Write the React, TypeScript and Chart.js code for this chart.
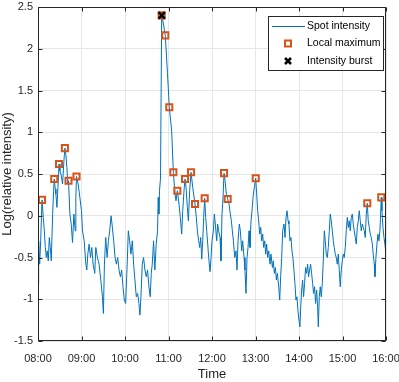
import React, { useEffect, useRef } from "react";
import { Chart, registerables } from "chart.js";

Chart.register(...registerables);

const FONT = "'Liberation Sans', Arial, sans-serif";

// Time axis: minutes after 08:00
const xTickMinutes = [0, 60, 120, 180, 240, 300, 360, 420, 480];
const xTickLabels = ["08:00", "09:00", "10:00", "11:00", "12:00", "13:00", "14:00", "15:00", "16:00"];
const yTickValues = [-1.5, -1, -0.5, 0, 0.5, 1, 1.5, 2, 2.5];
const legendLabels = ["Spot intensity", "Local maximum", "Intensity burst"];

// Spot intensity trace (minutes after 08:00, log relative intensity)
const spotTime = [
  0, 0.9, 2.3, 3.7, 5.5, 7.3, 8.7, 10.1, 11.5, 12.8,
  14.2, 15.6, 16.9, 18.3, 20.2, 21.5, 22.4, 23.8, 24.7, 26.1,
  27.5, 29.0, 30.2, 31.6, 33.9, 35.7, 37.1, 38.5, 39.8, 41.2,
  42.1, 44.0, 45.8, 47.6, 49.5, 51.3, 52.2, 53.1, 55.4, 57.7,
  60.0, 61.4, 63.7, 66.0, 67.3, 68.7, 70.5, 72.4, 74.2, 76.0,
  78.3, 79.7, 82.0, 84.3, 86.6, 88.9, 90.2, 91.6, 93.4, 95.3,
  97.1, 98.9, 100.8, 102.6, 104.4, 106.3, 108.1, 109.9, 111.8, 113.6,
  115.4, 117.2, 119.1, 120.9, 122.7, 124.6, 126.4, 128.2, 130.1, 131.9,
  133.7, 135.6, 137.4, 139.2, 140.6, 142.0, 143.8, 145.6, 147.5, 149.3,
  151.1, 153.0, 154.8, 156.2, 157.6, 159.4, 161.2, 163.0, 164.9, 165.8,
  166.7, 167.6, 169.0, 170.6, 172.5, 175.6, 178.5, 181.1, 184.4, 186.7,
  189.0, 190.4, 192.2, 194.5, 196.3, 198.2, 199.6, 201.4, 202.8, 204.2,
  206.0, 207.4, 209.2, 211.1, 213.4, 214.7, 216.6, 218.4, 219.8, 221.6,
  223.0, 224.4, 225.8, 227.2, 228.5, 229.9, 231.3, 232.7, 234.1, 235.4,
  237.3, 238.7, 240.0, 241.9, 243.2, 244.6, 246.5, 247.8, 249.2, 251.1,
  252.4, 253.8, 255.2, 256.6, 258.0, 259.8, 261.6, 263.5, 265.3, 266.7,
  268.1, 269.5, 271.3, 273.1, 274.5, 275.9, 277.7, 279.1, 281.0, 282.3,
  284.2, 285.5, 286.9, 288.3, 289.7, 291.1, 292.4, 293.8, 295.2, 296.6,
  298.4, 300.3, 301.6, 303.0, 304.4, 305.8, 307.2, 308.5, 309.9, 311.3,
  312.7, 314.1, 315.4, 316.8, 318.2, 320.0, 321.4, 323.3, 324.6, 326.0,
  327.4, 328.8, 330.2, 332.0, 333.4, 334.7, 336.1, 337.5, 339.3, 340.7,
  342.1, 343.5, 344.9, 346.1, 347.5, 348.9, 350.3, 351.6, 353.0, 354.4,
  355.8, 357.2, 358.5, 359.9, 361.3, 362.2, 363.6, 365.0, 366.3, 367.7,
  369.1, 370.5, 371.9, 373.2, 374.6, 376.0, 377.4, 378.8, 380.1, 381.5,
  382.9, 384.3, 385.7, 386.6, 388.0, 389.3, 390.7, 392.1, 393.5, 394.9,
  396.2, 397.6, 399.0, 400.4, 401.8, 403.1, 404.5, 405.9, 407.3, 408.6,
  410.0, 411.4, 412.8, 414.2, 415.5, 416.9, 418.3, 419.7, 421.1, 422.4,
  423.8, 425.2, 426.6, 428.0, 429.3, 430.7, 432.1, 433.5, 434.9, 436.2,
  437.6, 439.0, 440.4, 441.8, 443.1, 444.5, 445.9, 447.3, 448.7, 450.0,
  451.4, 452.8, 454.2, 455.5, 456.9, 458.3, 459.7, 461.1, 462.4, 463.8,
  464.7, 466.1, 467.5, 468.9, 470.3, 471.6, 473.5, 474.4, 475.8, 477.2,
  478.5, 479.5,
];
const spotValue = [
  -0.81, -0.30, -0.58, -0.30, 0.19, -0.02, -0.18, -0.38, -0.50, -0.42,
  -0.54, -0.26, -0.38, -0.54, 0.02, 0.30, 0.44, 0.32, 0.26, 0.10,
  0.34, 0.62, 0.54, 0.50, 0.38, 0.65, 0.81, 0.73, 0.58, 0.38,
  0.42, 0.02, -0.10, -0.32, 0.02, -0.18, 0.22, 0.47, 0.38, 0.22,
  0.06, -0.18, -0.30, -0.58, -0.65, -0.46, -0.34, -0.50, -0.38, -0.58,
  -0.69, -0.38, -0.50, -0.58, -0.77, -0.97, -1.17, -0.58, -0.26, -0.50,
  -0.30, -0.18, 0.00, -0.14, -0.30, -0.50, -0.58, -0.50, -0.65, -0.73,
  -0.65, -0.85, -1.01, -1.05, -0.65, -0.18, -0.30, -0.46, -0.30, -0.58,
  -0.77, -0.97, -0.93, -1.05, -1.19, -0.97, -0.58, -0.50, -0.65, -0.73,
  -0.65, -0.85, -0.97, -0.69, -0.58, -0.30, -0.65, -0.34, -0.18, 0.22,
  0.02, 0.30, 0.45, 2.40, 2.32, 2.16, 1.72, 1.30, 1.01, 0.52,
  0.26, 0.18, 0.30, 0.14, -0.02, -0.22, 0.06, 0.30, 0.44, 0.34,
  0.10, -0.06, 0.30, 0.52, 0.34, 0.26, 0.14, -0.02, -0.18, -0.30,
  -0.38, -0.26, -0.52, -0.30, -0.02, 0.21, -0.02, -0.18, -0.34, -0.50,
  -0.67, -0.50, -0.30, -0.18, 0.02, -0.10, -0.30, -0.10, -0.18, -0.26,
  -0.54, 0.02, 0.22, 0.51, 0.42, 0.26, 0.20, 0.14, 0.02, -0.06,
  -0.18, -0.30, -0.50, -0.42, -0.65, -0.30, -0.10, -0.18, -0.42, -0.30,
  -0.50, -0.65, -0.93, -0.50, -0.38, -0.18, -0.38, -0.06, 0.06, 0.22,
  0.34, 0.45, 0.26, 0.06, -0.06, -0.22, -0.14, -0.30, -0.22, -0.38,
  -0.30, -0.46, -0.34, -0.50, -0.42, -0.58, -0.46, -0.62, -0.54, -0.69,
  -0.62, -0.77, -0.69, -0.85, -1.01, -0.73, -0.50, -0.18, -0.10, -0.26,
  -0.02, 0.06, -0.06, -0.10, -0.30, -0.26, -0.42, -0.50, -0.65, -0.81,
  -1.01, -0.97, -1.13, -1.25, -1.33, -1.13, -0.89, -0.77, -0.97, -0.81,
  -0.62, -0.69, -0.58, -0.73, -0.65, -0.58, -0.69, -0.81, -0.93, -0.85,
  -1.05, -0.89, -1.09, -1.33, -0.97, -0.85, -0.97, -0.81, -0.54, -0.18,
  -0.30, -0.46, -0.50, -0.38, -0.18, 0.02, -0.06, -0.18, -0.30, -0.38,
  -0.46, -0.50, -0.58, -0.46, -0.65, -0.85, -0.65, -0.54, -0.46, -0.50,
  -0.38, -0.18, -0.02, -0.14, -0.06, -0.18, -0.02, 0.02, -0.10, -0.18,
  -0.26, -0.34, -0.14, -0.06, 0.06, -0.06, -0.18, -0.10, -0.14, -0.18,
  -0.26, 0.02, 0.15, -0.06, -0.14, -0.22, -0.26, -0.34, -0.46, -0.58,
  -0.73, -0.50, -0.34, -0.22, -0.30, -0.18, 0.22, 0.06, -0.14, -0.26,
  -0.34, -0.42,
];

// Local maxima
const maxTime = [5.5, 22.4, 29.0, 37.1, 42.1, 53.1, 170.6, 175.6, 181.1, 186.7, 192.2, 202.8, 211.1, 216.6, 229.9, 256.6, 261.6, 300.3, 454.2, 473.5];
const maxValue = [0.19, 0.44, 0.62, 0.81, 0.42, 0.47, 2.40, 2.16, 1.30, 0.52, 0.30, 0.44, 0.52, 0.14, 0.21, 0.51, 0.20, 0.45, 0.15, 0.22];

// Intensity burst
const burstTime = [170.6];
const burstValue = [2.40];

const BLUE = "#0072BD";
const ORANGE = "#D95319";
const AXIS = "#262626";

const framePlugin = {
  id: "matlabFrame",
  afterDatasetsDraw(chart: any) {
    const { ctx, chartArea } = chart;
    const l = Math.round(chartArea.left) + 0.5;
    const r = Math.round(chartArea.right) - 0.5;
    const t = Math.round(chartArea.top) + 0.5;
    const b = Math.round(chartArea.bottom) - 0.5;
    ctx.save();
    ctx.strokeStyle = AXIS;
    ctx.lineWidth = 1;
    ctx.beginPath();
    const xs = chart.scales.x;
    const ys = chart.scales.y;
    const len = 4;
    xTickMinutes.forEach((v) => {
      const px = Math.round(xs.getPixelForValue(v)) + 0.5;
      ctx.moveTo(px, b);
      ctx.lineTo(px, b - len);
      ctx.moveTo(px, t);
      ctx.lineTo(px, t + len);
    });
    yTickValues.forEach((v) => {
      const py = Math.round(ys.getPixelForValue(v)) + 0.5;
      ctx.moveTo(l, py);
      ctx.lineTo(l + len, py);
      ctx.moveTo(r, py);
      ctx.lineTo(r - len, py);
    });
    ctx.stroke();
    ctx.strokeRect(l, t, r - l, b - t);
    ctx.restore();
  },
  afterDraw(chart: any) {
    const { ctx, chartArea } = chart;
    const bx = Math.round(chartArea.right) - 118;
    const by = Math.round(chartArea.top) + 9;
    const bw = 115;
    const bh = 54;
    ctx.save();
    ctx.fillStyle = "#ffffff";
    ctx.fillRect(bx, by, bw, bh);
    ctx.strokeStyle = AXIS;
    ctx.lineWidth = 1;
    ctx.strokeRect(bx + 0.5, by + 0.5, bw, bh);
    const rows = [by + 10.5, by + 27.5, by + 45];
    const cx = bx + 20;
    // line sample
    ctx.strokeStyle = BLUE;
    ctx.lineWidth = 1;
    ctx.beginPath();
    ctx.moveTo(bx + 4, rows[0]);
    ctx.lineTo(bx + 37, rows[0]);
    ctx.stroke();
    // square sample
    ctx.strokeStyle = ORANGE;
    ctx.lineWidth = 2;
    ctx.strokeRect(cx - 3, rows[1] - 3, 6, 6);
    // cross sample
    ctx.strokeStyle = "#000000";
    ctx.lineWidth = 2.5;
    ctx.beginPath();
    ctx.moveTo(cx - 3, rows[2] - 3);
    ctx.lineTo(cx + 3, rows[2] + 3);
    ctx.moveTo(cx - 3, rows[2] + 3);
    ctx.lineTo(cx + 3, rows[2] - 3);
    ctx.stroke();
    ctx.fillStyle = "#000000";
    ctx.font = `10.5px ${FONT}`;
    ctx.textBaseline = "middle";
    ctx.textAlign = "left";
    legendLabels.forEach((lab, i) => ctx.fillText(lab, bx + 39, rows[i]));
    ctx.restore();
  },
};

export default function App() {
  const ref = useRef<HTMLCanvasElement>(null);
  useEffect(() => {
    document.body.style.margin = "0";
    const chart = new Chart(ref.current as HTMLCanvasElement, {
      type: "scatter",
      data: {
        datasets: [
          {
            type: "line",
            label: legendLabels[0],
            data: spotTime.map((t, i) => ({ x: t, y: spotValue[i] })),
            borderColor: BLUE,
            borderWidth: 1,
            pointRadius: 0,
            tension: 0,
            fill: false,
            order: 3,
          } as any,
          {
            label: legendLabels[1],
            data: maxTime.map((t, i) => ({ x: t, y: maxValue[i] })),
            pointStyle: "rect",
            pointRadius: 4.3,
            borderColor: ORANGE,
            borderWidth: 2,
            backgroundColor: "rgba(0,0,0,0)",
            showLine: false,
            order: 2,
          },
          {
            label: legendLabels[2],
            data: burstTime.map((t, i) => ({ x: t, y: burstValue[i] })),
            pointStyle: "crossRot",
            pointRadius: 4.5,
            borderColor: "#000000",
            borderWidth: 2.5,
            showLine: false,
            order: 1,
          },
        ],
      },
      options: {
        responsive: false,
        animation: false,
        events: [],
        layout: { padding: { left: 0, right: 13, top: 5, bottom: 0 } },
        plugins: { legend: { display: false }, tooltip: { enabled: false } },
        scales: {
          x: {
            type: "linear",
            min: 0,
            max: 480,
            afterBuildTicks: (s: any) => {
              s.ticks = xTickMinutes.map((v) => ({ value: v }));
            },
            afterFit: (s: any) => {
              s.height = 41;
              s.paddingLeft = 0;
              s.paddingRight = 0;
            },
            ticks: {
              autoSkip: false,
              maxRotation: 0,
              padding: 11,
              color: AXIS,
              font: { family: FONT, size: 11 },
              callback: (v: any) => xTickLabels[xTickMinutes.indexOf(Number(v))],
            },
            grid: { color: "#e6e6e6", drawTicks: false },
            border: { display: false },
            title: {
              display: true,
              text: "Time",
              color: AXIS,
              padding: { top: -2, bottom: 0 },
              font: { family: FONT, size: 13 },
            },
          },
          y: {
            type: "linear",
            min: -1.5,
            max: 2.5,
            afterBuildTicks: (s: any) => {
              s.ticks = yTickValues.map((v) => ({ value: v }));
            },
            afterFit: (s: any) => {
              s.width = 38;
              s.paddingTop = 0;
              s.paddingBottom = 0;
            },
            ticks: {
              autoSkip: false,
              padding: 5,
              color: AXIS,
              font: { family: FONT, size: 11 },
              callback: (v: any) => String(v),
            },
            grid: { color: "#e6e6e6", drawTicks: false },
            border: { display: false },
            title: {
              display: true,
              text: "Log(relative intensity)",
              color: AXIS,
              padding: { top: 0, bottom: 0 },
              font: { family: FONT, size: 13 },
            },
          },
        },
      },
      plugins: [framePlugin],
    });
    return () => chart.destroy();
  }, []);
  return (
    <div style={{ position: "absolute", left: 0, top: 0, width: 399, height: 382 }}>
      <canvas ref={ref} width={399} height={382} style={{ display: "block" }} />
    </div>
  );
}
